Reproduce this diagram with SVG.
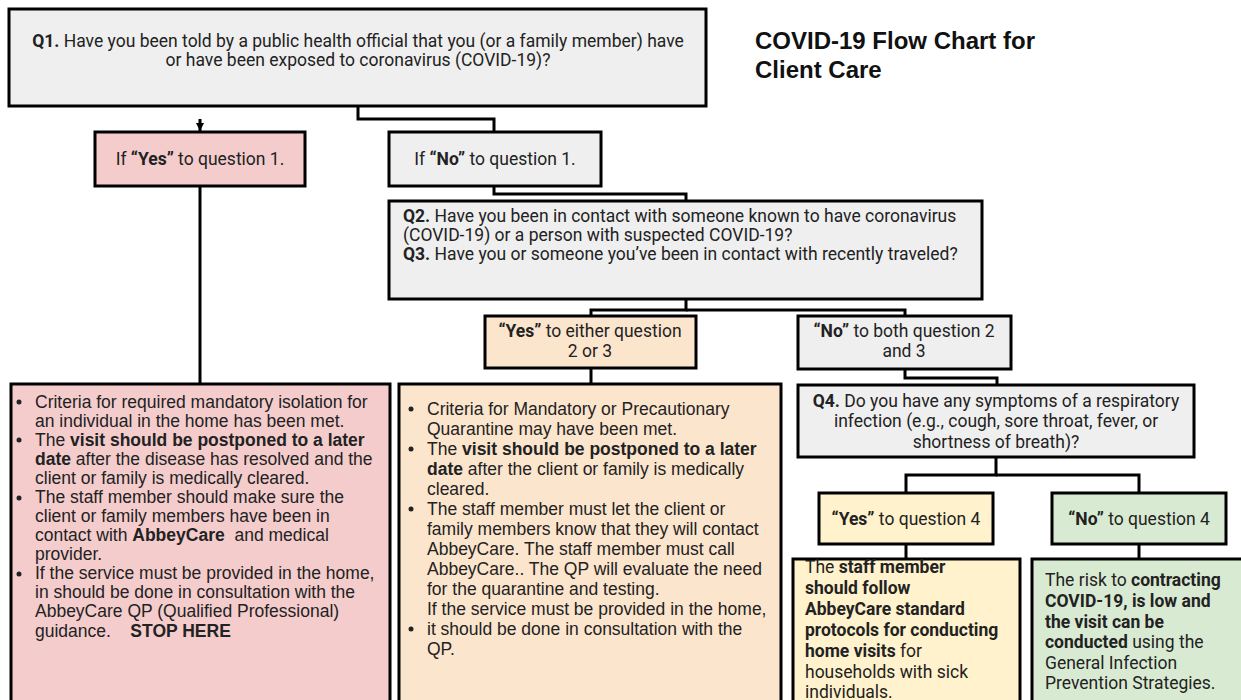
<svg xmlns="http://www.w3.org/2000/svg" width="1241" height="700" viewBox="0 0 1241 700">
<style>
.box{stroke:#000;stroke-width:3}
.gray{fill:#efefef}.pink{fill:#f4cccc}.orange{fill:#fce5cd}.yellow{fill:#fff2cc}.green{fill:#d9ead3}
#connectors path{fill:none;stroke:#000;stroke-width:3}
.r{font-family:Roboto,"Liberation Sans",sans-serif;font-size:17.5px;fill:#222}
.a{font-family:"Liberation Sans",Arial,sans-serif;font-size:17.5px;fill:#222}
.c{text-anchor:middle}
.b{font-weight:bold}
.title{font-family:"Liberation Sans",Arial,sans-serif;font-size:24px;font-weight:bold;fill:#111}
.dot{fill:#222}
</style>
<defs>
<marker id="arr" markerWidth="8" markerHeight="8" refX="8" refY="4" orient="auto" markerUnits="userSpaceOnUse" viewBox="0 0 8 8">
<path d="M0,0 L8,4 L0,8 Z" fill="#000"/>
</marker>
</defs>
<rect width="1241" height="700" fill="#fff"/>

<g id="connectors">
<path d="M358,106 V119 H494 V132"/>
<path d="M200,119 V131" marker-end="url(#arr)"/>
<path d="M200,186 V384"/>
<path d="M494,186 V194 H686 V201"/>
<path d="M686,299 V310 H591 V316"/>
<path d="M686,310 H905 V316"/>
<path d="M591,368 V384"/>
<path d="M905,369 V378 H997 V385"/>
<path d="M996,457 V475 H906 V493"/>
<path d="M996,475 H1139 V493"/>
<path d="M906,544 V559"/>
<path d="M1139,544 V559"/>
</g>

<g id="title">
<text class="title" x="755" y="49">COVID-19 Flow Chart for</text>
<text class="title" x="755" y="78">Client Care</text>
</g>

<g id="q1">
<rect class="box gray" x="9" y="9" width="697" height="97"/>
<text class="r c" x="358" y="47"><tspan class="b">Q1.</tspan> Have you been told by a public health official that you (or a family member) have</text>
<text class="r c" x="358" y="66">or have been exposed to coronavirus (COVID-19)?</text>
</g>

<g id="yes1">
<rect class="box pink" x="95" y="132" width="210" height="54"/>
<text class="r c" x="200" y="165">If <tspan class="b">“Yes”</tspan> to question 1.</text>
</g>

<g id="no1">
<rect class="box gray" x="389" y="132" width="212" height="54"/>
<text class="r c" x="495" y="165">If <tspan class="b">“No”</tspan> to question 1.</text>
</g>

<g id="q2">
<rect class="box gray" x="389" y="201" width="593" height="98"/>
<text class="r" x="403" y="222"><tspan class="b">Q2.</tspan> Have you been in contact with someone known to have coronavirus</text>
<text class="r" x="403" y="241">(COVID-19) or a person with suspected COVID-19?</text>
<text class="r" x="403" y="260"><tspan class="b">Q3.</tspan> Have you or someone you’ve been in contact with recently traveled?</text>
</g>

<g id="yes23">
<rect class="box orange" x="485" y="316" width="211" height="52"/>
<text class="r c" x="590" y="337"><tspan class="b">“Yes”</tspan> to either question</text>
<text class="r c" x="590" y="357">2 or 3</text>
</g>

<g id="no23">
<rect class="box gray" x="798" y="316" width="213" height="53"/>
<text class="r c" x="904" y="337"><tspan class="b">“No”</tspan> to both question 2</text>
<text class="r c" x="904" y="357">and 3</text>
</g>

<g id="q4">
<rect class="box gray" x="798" y="385" width="396" height="72"/>
<text class="r c" x="996" y="407"><tspan class="b">Q4.</tspan> Do you have any symptoms of a respiratory</text>
<text class="r c" x="996" y="427">infection (e.g., cough, sore throat, fever, or</text>
<text class="r c" x="996" y="448">shortness of breath)?</text>
</g>

<g id="yes4">
<rect class="box yellow" x="819" y="493" width="174" height="51"/>
<text class="r c" x="906" y="525"><tspan class="b">“Yes”</tspan> to question 4</text>
</g>

<g id="no4">
<rect class="box green" x="1052" y="493" width="174" height="51"/>
<text class="r c" x="1139" y="525"><tspan class="b">“No”</tspan> to question 4</text>
</g>

<g id="stop">
<rect class="box pink" x="11" y="384" width="379" height="330"/>
<circle class="dot" cx="19" cy="402" r="2.5"/>
<circle class="dot" cx="19" cy="440" r="2.5"/>
<circle class="dot" cx="19" cy="498" r="2.5"/>
<circle class="dot" cx="19" cy="574" r="2.5"/>
<text class="a" x="35" y="408">Criteria for required mandatory isolation for</text>
<text class="a" x="35" y="427">an individual in the home has been met.</text>
<text class="a" x="35" y="446">The <tspan class="b">visit should be postponed to a later</tspan></text>
<text class="a" x="35" y="465"><tspan class="b">date</tspan> after the disease has resolved and the</text>
<text class="a" x="35" y="484">client or family is medically cleared.</text>
<text class="a" x="35" y="503">The staff member should make sure the</text>
<text class="a" x="35" y="522">client or family members have been in</text>
<text class="a" x="35" y="541" xml:space="preserve">contact with <tspan class="b">AbbeyCare</tspan>  and medical</text>
<text class="a" x="35" y="560">provider.</text>
<text class="a" x="35" y="579">If the service must be provided in the home,</text>
<text class="a" x="35" y="598">in should be done in consultation with the</text>
<text class="a" x="35" y="617">AbbeyCare QP (Qualified Professional)</text>
<text class="a" x="35" y="637" xml:space="preserve">guidance.    <tspan class="b">STOP HERE</tspan></text>
</g>

<g id="quarantine">
<rect class="box orange" x="399" y="384" width="382" height="330"/>
<circle class="dot" cx="411" cy="409" r="2.5"/>
<circle class="dot" cx="411" cy="449" r="2.5"/>
<circle class="dot" cx="411" cy="509" r="2.5"/>
<circle class="dot" cx="411" cy="629" r="2.5"/>
<text class="a" x="427" y="415">Criteria for Mandatory or Precautionary</text>
<text class="a" x="427" y="435">Quarantine may have been met.</text>
<text class="a" x="427" y="455">The <tspan class="b">visit should be postponed to a later</tspan></text>
<text class="a" x="427" y="475"><tspan class="b">date</tspan> after the client or family is medically</text>
<text class="a" x="427" y="495">cleared.</text>
<text class="a" x="427" y="515">The staff member must let the client or</text>
<text class="a" x="427" y="535">family members know that they will contact</text>
<text class="a" x="427" y="555">AbbeyCare. The staff member must call</text>
<text class="a" x="427" y="575">AbbeyCare.. The QP will evaluate the need</text>
<text class="a" x="427" y="595">for the quarantine and testing.</text>
<text class="a" x="427" y="615">If the service must be provided in the home,</text>
<text class="a" x="427" y="635">it should be done in consultation with the</text>
<text class="a" x="427" y="655">QP.</text>
</g>

<g id="sick">
<rect class="box yellow" x="793" y="559" width="227" height="160"/>
<text class="r" x="805" y="573">The <tspan class="b">staff member</tspan></text>
<text class="r b" x="805" y="594">should follow</text>
<text class="r b" x="805" y="615">AbbeyCare standard</text>
<text class="r b" x="805" y="636">protocols for conducting</text>
<text class="r" x="805" y="657"><tspan class="b">home visits</tspan> for</text>
<text class="r" x="805" y="678">households with sick</text>
<text class="r" x="805" y="698">individuals.</text>
</g>

<g id="lowrisk">
<rect class="box green" x="1032" y="559" width="215" height="160"/>
<text class="r" x="1045" y="586">The risk to <tspan class="b">contracting</tspan></text>
<text class="r b" x="1045" y="607">COVID-19, is low and</text>
<text class="r b" x="1045" y="628">the visit can be</text>
<text class="r" x="1045" y="648"><tspan class="b">conducted</tspan> using the</text>
<text class="r" x="1045" y="669">General Infection</text>
<text class="r" x="1045" y="689">Prevention Strategies.</text>
</g>
</svg>
